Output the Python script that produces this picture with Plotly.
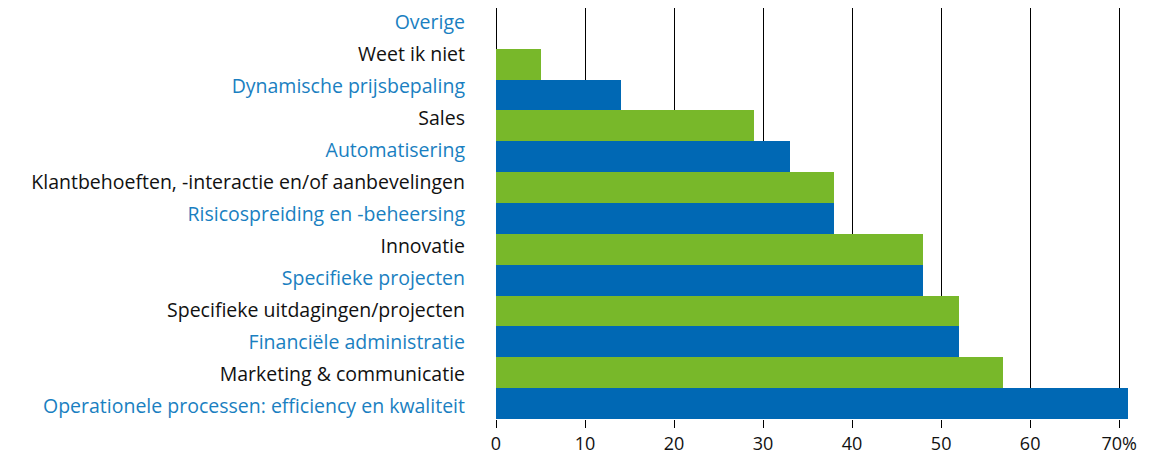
import plotly.graph_objects as go

categories = [
    "Operationele processen: efficiency en kwaliteit",
    "Marketing & communicatie",
    "Financiële administratie",
    "Specifieke uitdagingen/projecten",
    "Specifieke projecten",
    "Innovatie",
    "Risicospreiding en -beheersing",
    "Klantbehoeften, -interactie en/of aanbevelingen",
    "Automatisering",
    "Sales",
    "Dynamische prijsbepaling",
    "Weet ik niet",
    "Overige",
]
values = [71, 57, 52, 52, 48, 48, 38, 38, 33, 29, 14, 5, 0]
x_tickvals = [0, 10, 20, 30, 40, 50, 60, 70]
x_ticktext = ["0", "10", "20", "30", "40", "50", "60", "70%"]

BLUE = "#0068b4"
GREEN = "#78b82a"
LABEL_BLUE = "#1a7fc1"
LABEL_BLACK = "#111111"

idx = list(range(len(categories)))
bar_colors = [BLUE if i % 2 == 0 else GREEN for i in idx]
label_colors = [LABEL_BLUE if i % 2 == 0 else LABEL_BLACK for i in idx]
ticktext_y = [f"<span style='color:{c}'>{t}</span>" for t, c in zip(categories, label_colors)]

fig = go.Figure()
fig.add_trace(go.Bar(
    x=values,
    y=idx,
    orientation="h",
    marker=dict(color=bar_colors, line=dict(width=0)),
    hovertext=categories,
    hoverinfo="x+text",
))
# invisible trace carrying the category labels on an overlaid axis
fig.add_trace(go.Scatter(
    x=values, y=idx, yaxis="y2", mode="markers",
    marker=dict(opacity=0), hoverinfo="skip", showlegend=False,
))

fig.update_layout(
    width=1155, height=448,
    margin=dict(l=488, r=26, t=0, b=37),
    paper_bgcolor="white", plot_bgcolor="white",
    bargap=0,
    showlegend=False,
    font=dict(family="Open Sans, sans-serif", size=19, color="#111111"),
    yaxis2=dict(
        overlaying="y", side="left", automargin=False,
        range=[-0.386, 12.45],
        tickvals=idx, ticktext=ticktext_y,
        showgrid=False, zeroline=False, showline=False,
        ticks="", ticklabelstandoff=30,
        ticklabeloverflow="allow",
        tickfont=dict(size=19.5),
    ),
)
fig.update_xaxes(
    automargin=False,
    range=[0, 72],
    tickvals=x_tickvals, ticktext=x_ticktext,
    showgrid=True, gridcolor="black", gridwidth=1.2,
    zeroline=True, zerolinecolor="black", zerolinewidth=1.2,
    ticks="outside", ticklen=8, tickcolor="black", tickwidth=1.2,
    tickfont=dict(size=18, color="#111111"),
    showline=False,
)
fig.update_yaxes(
    selector=dict(overlaying=None),
    automargin=False,
    range=[-0.5, 12.82],
    showticklabels=False,
    showgrid=False, zeroline=False, showline=False,
    ticks="",
)

fig.write_html("out.html")
